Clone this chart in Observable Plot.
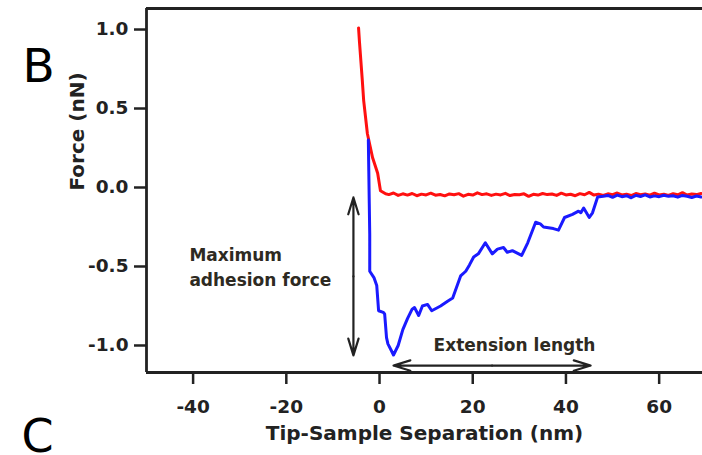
<!DOCTYPE html>
<html>
<head>
<meta charset="utf-8">
<script src="https://cdn.jsdelivr.net/npm/d3@7"></script>
<script src="https://cdn.jsdelivr.net/npm/@observablehq/plot@0.6"></script>
<style>
  html, body { margin: 0; padding: 0; background: #fff; overflow: hidden; }
  #chart { width: 702px; height: 455px; }
</style>
</head>
<body>
<div id="chart"></div>
<script>
// ---- data ----
const xTicks = [-40, -20, 0, 20, 40, 60];
const yTicks = [-1.0, -0.5, 0.0, 0.5, 1.0];

// approach curve (red)
const approachSep = [-4.5, -4.3, -3.7, -3.4, -2.6, -1.5, -0.4, 0.2, 1.3,
  2, 3, 4, 5, 6, 7, 8, 9, 10, 11, 12, 13, 14, 15, 16, 17, 18, 19, 20, 21, 22, 23, 24, 25,
  26, 27, 28, 29, 30, 31, 32, 33, 34, 35, 36, 37, 38, 39, 40, 41, 42, 43, 44, 45, 46, 47,
  48, 49, 50, 51, 52, 53, 54, 55, 56, 57, 58, 59, 60, 61, 62, 63, 64, 65, 66, 67, 68, 69];
const approachForce = [1.01, 0.92, 0.68, 0.55, 0.34, 0.19, 0.09, -0.02, -0.04,
  -0.045, -0.035, -0.050, -0.040, -0.048, -0.038, -0.052, -0.042, -0.047, -0.036, -0.049, -0.044,
  -0.053, -0.041, -0.046, -0.039, -0.055, -0.043, -0.048, -0.034, -0.045, -0.040, -0.050, -0.042,
  -0.047, -0.037, -0.051, -0.044, -0.046, -0.040, -0.056, -0.043, -0.048, -0.038, -0.045, -0.041,
  -0.050, -0.036, -0.047, -0.043, -0.052, -0.039, -0.046, -0.031, -0.048, -0.042, -0.050, -0.040,
  -0.045, -0.035, -0.047, -0.043, -0.051, -0.038, -0.046, -0.041, -0.049, -0.036, -0.047, -0.042,
  -0.050, -0.039, -0.046, -0.033, -0.048, -0.041, -0.045, -0.038];

// retract curve (blue)
const retractSep = [-2.4, -2.3, -2.2, -2.1, -2.1, -1.2, -0.6, -0.2, 0.8, 1.1, 1.5, 1.8, 2.5, 3.0,
  4.0, 5.0, 6.0, 7.0, 7.5, 8.4, 9.2, 10.3, 11.2, 13.1, 14.6, 15.7, 17.4, 18.5, 19.3, 20.2, 21.2,
  22.7, 24.2, 25.3, 26.6, 27.4, 28.5, 30.5, 31.8, 33.5, 34.5, 35.2, 37.3, 38.4, 39.7, 41.4, 42.7,
  43.2, 43.8, 45.0, 45.7, 46.8,
  48, 49, 50, 51, 52, 53, 54, 55, 56, 57, 58, 59, 60, 61, 62, 63, 64, 65, 66, 67, 68, 69];
const retractForce = [0.30, 0.10, -0.10, -0.30, -0.53, -0.57, -0.62, -0.78, -0.79, -0.80, -0.95,
  -0.99, -1.03, -1.06, -1.00, -0.90, -0.83, -0.77, -0.76, -0.81, -0.75, -0.74, -0.78, -0.75, -0.72,
  -0.70, -0.56, -0.53, -0.49, -0.44, -0.42, -0.35, -0.42, -0.39, -0.38, -0.41, -0.40, -0.43, -0.35,
  -0.22, -0.23, -0.25, -0.26, -0.27, -0.19, -0.17, -0.15, -0.16, -0.13, -0.19, -0.16, -0.06,
  -0.055, -0.050, -0.062, -0.048, -0.058, -0.052, -0.065, -0.050, -0.057, -0.047, -0.060, -0.053,
  -0.058, -0.049, -0.056, -0.052, -0.061, -0.050, -0.055, -0.063, -0.054, -0.060];

// annotations
const adhesionArrowSep = -5.6;
const adhesionArrowForce = [-0.063, -1.063];
const extensionArrowSep = [3.0, 45.3];
const extensionArrowForce = -1.127;
const adhesionLabel = ["Maximum", "adhesion force"];
const adhesionLabelSep = -40.8;
const adhesionLabelForce = [-0.428, -0.592];
const extensionLabel = "Extension length";
const extensionLabelSep = 11.6;
const extensionLabelForce = -1.0;

const xDomain = [-50, 69.3];
const yDomain = [-1.171, 1.133];

// ---- build tables ----
const approach = approachSep.map((s, i) => ({sep: s, force: approachForce[i]}));
const retract = retractSep.map((s, i) => ({sep: s, force: retractForce[i]}));
const midA = (adhesionArrowForce[0] + adhesionArrowForce[1]) / 2;
const midE = (extensionArrowSep[0] + extensionArrowSep[1]) / 2;
const arrows = [
  {x1: adhesionArrowSep, y1: midA, x2: adhesionArrowSep, y2: adhesionArrowForce[0]},
  {x1: adhesionArrowSep, y1: midA, x2: adhesionArrowSep, y2: adhesionArrowForce[1]},
  {x1: midE, y1: extensionArrowForce, x2: extensionArrowSep[0], y2: extensionArrowForce},
  {x1: midE, y1: extensionArrowForce, x2: extensionArrowSep[1], y2: extensionArrowForce}
];
const adhesionTexts = adhesionLabel.map((t, i) => ({t, x: adhesionLabelSep, y: adhesionLabelForce[i]}));

const ink = "#222";
const noteInk = "#2e2a22";
const tickFont = {fontFamily: "DejaVu Sans", fontWeight: "bold", fontSize: 18.5, fill: ink};

const chart = Plot.plot({
  width: 702,
  height: 455,
  marginLeft: 146,
  marginRight: 0,
  marginTop: 8,
  marginBottom: 83,
  style: {fontFamily: "DejaVu Sans", background: "#fff", color: ink, overflow: "hidden"},
  x: {domain: xDomain},
  y: {domain: yDomain},
  marks: [
    // frame lines
    Plot.ruleX([xDomain[0]], {stroke: ink, strokeWidth: 2.8}),
    Plot.ruleY([yDomain[0]], {stroke: ink, strokeWidth: 2.8}),
    Plot.ruleY([yDomain[1]], {stroke: ink, strokeWidth: 2.8}),
    // axes
    Plot.axisX({ticks: xTicks, tickSize: 12, tickPadding: 15, strokeWidth: 2.5, stroke: ink,
      tickFormat: d => String(d), label: null, ...tickFont}),
    Plot.axisY({ticks: yTicks, tickSize: 12, tickPadding: 6, strokeWidth: 2.5, stroke: ink,
      tickFormat: d => d.toFixed(1), label: null, ...tickFont}),
    // curves
    Plot.line(approach, {x: "sep", y: "force", stroke: "#ff1010", strokeWidth: 3}),
    Plot.line(retract, {x: "sep", y: "force", stroke: "#1a1aff", strokeWidth: 3}),
    // arrows
    Plot.arrow(arrows, {x1: "x1", y1: "y1", x2: "x2", y2: "y2", stroke: ink, strokeWidth: 2.2,
      headLength: 12, headAngle: 34}),
    // annotation text
    Plot.text(adhesionTexts, {x: "x", y: "y", text: "t", textAnchor: "start", fontSize: 17,
      fontWeight: "bold", fontFamily: "DejaVu Sans", fill: noteInk}),
    Plot.text([extensionLabel], {x: extensionLabelSep, y: extensionLabelForce, text: d => d,
      textAnchor: "start", fontSize: 17, fontWeight: "bold", fontFamily: "DejaVu Sans", fill: noteInk}),
    // axis titles
    Plot.text(["Tip-Sample Separation (nm)"], {frameAnchor: "bottom", dy: 67.6, text: d => d,
      fontSize: 20, fontWeight: "bold", fontFamily: "DejaVu Sans", fill: ink}),
    Plot.text(["Force (nN)"], {frameAnchor: "left", dx: -69, rotate: -90, text: d => d,
      fontSize: 20, fontWeight: "bold", fontFamily: "DejaVu Sans", fill: ink}),
    // panel letters
    Plot.text(["B"], {frameAnchor: "top-left", dx: -124, dy: 40.6, lineAnchor: "top",
      textAnchor: "start", text: d => d, fontSize: 47, fontFamily: "DejaVu Sans", fill: "#000"}),
    Plot.text(["C"], {frameAnchor: "bottom-left", dx: -125, dy: 46.5, lineAnchor: "top",
      textAnchor: "start", text: d => d, fontSize: 46, fontFamily: "DejaVu Sans", fill: "#000"})
  ]
});
document.getElementById("chart").appendChild(chart);
</script>
</body>
</html>
